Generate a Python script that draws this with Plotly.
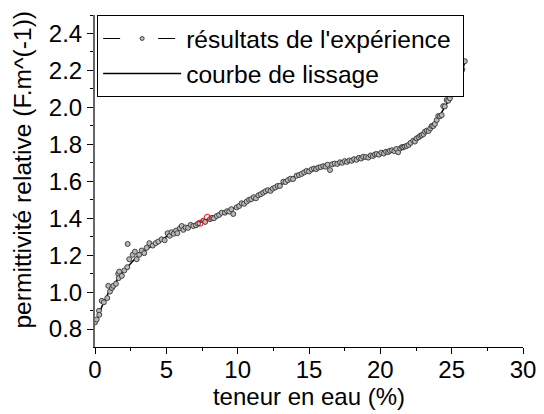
import plotly.graph_objects as go

# Experimental results (teneur en eau %, permittivité relative)
exp_x = [0.00, 0.12, 0.28, 0.30, 0.47, 0.62, 0.86, 0.93, 1.05, 1.19, 1.28, 1.47, 1.63, 1.66, 1.70, 1.88,
         2.05, 2.26, 2.29, 2.40, 2.64, 2.80, 2.92, 3.10, 3.27, 3.45, 3.62, 3.81, 4.05, 4.25, 4.44, 4.67,
         4.88, 5.09, 5.24, 5.37, 5.52, 5.68, 5.77, 5.95, 6.08, 6.19, 6.35, 6.52, 6.71, 6.89, 7.08, 7.22,
         7.59, 7.72, 8.06, 8.20, 8.34, 8.53, 8.70, 8.88, 9.11, 9.26, 9.41, 9.56, 9.69, 9.93,
         10.10, 10.28, 10.45, 10.63, 10.80, 10.95, 11.12, 11.28, 11.45, 11.62, 11.79, 11.95, 12.12, 12.30,
         12.46, 12.63, 12.80, 12.96, 13.20, 13.35, 13.52, 13.70, 13.88, 14.13, 14.30, 14.48, 14.66, 14.83,
         15.00, 15.18, 15.35, 15.50, 15.65, 15.82, 16.00, 16.15, 16.30, 16.47, 16.62, 16.80, 16.98, 17.17,
         17.33, 17.50, 17.66, 17.83, 17.99, 18.16, 18.33, 18.50, 18.66, 18.80, 18.98, 19.15, 19.32, 19.48,
         19.62, 19.74, 19.90, 20.07, 20.24, 20.40, 20.55, 20.67, 20.82, 20.98, 21.12, 21.25, 21.40, 21.52,
         21.60, 21.72, 21.84, 21.98, 22.12, 22.31, 22.42, 22.54, 22.68, 22.80, 22.90, 23.02, 23.13, 23.25,
         23.38, 23.50, 23.60, 23.71, 23.82, 23.95, 24.06, 24.18, 24.30, 24.41, 24.52, 24.65, 24.76, 24.88,
         25.00, 25.12, 25.23, 25.40, 25.58, 25.75, 25.92]
exp_y = [0.836, 0.852, 0.899, 0.877, 0.953, 0.945, 0.968, 1.034, 1.003, 1.022, 1.034, 1.045, 1.099, 1.076, 1.111, 1.088,
         1.117, 1.135, 1.261, 1.178, 1.202, 1.219, 1.178, 1.202, 1.225, 1.211, 1.240, 1.265, 1.252, 1.265, 1.274, 1.286,
         1.281, 1.319, 1.305, 1.324, 1.316, 1.333, 1.319, 1.346, 1.358, 1.337, 1.350, 1.348, 1.364, 1.358, 1.362, 1.371,
         1.387, 1.380, 1.395, 1.402, 1.400, 1.412, 1.418, 1.430, 1.430, 1.438, 1.436, 1.449, 1.423, 1.459,
         1.466, 1.481, 1.478, 1.490, 1.500, 1.503, 1.514, 1.508, 1.524, 1.530, 1.538, 1.546, 1.552, 1.548,
         1.560, 1.566, 1.575, 1.575, 1.598, 1.596, 1.606, 1.614, 1.612, 1.630, 1.634, 1.640, 1.648, 1.656,
         1.653, 1.664, 1.669, 1.666, 1.674, 1.677, 1.682, 1.679, 1.690, 1.661, 1.692, 1.696, 1.694, 1.703,
         1.700, 1.709, 1.705, 1.713, 1.711, 1.720, 1.716, 1.727, 1.723, 1.733, 1.731, 1.728, 1.740, 1.737,
         1.745, 1.748, 1.744, 1.755, 1.750, 1.760, 1.758, 1.765, 1.768, 1.763, 1.775, 1.757, 1.778, 1.785,
         1.784, 1.788, 1.791, 1.797, 1.808, 1.820, 1.815, 1.832, 1.838, 1.846, 1.850, 1.855, 1.868, 1.874,
         1.872, 1.886, 1.899, 1.899, 1.910, 1.931, 1.953, 1.952, 1.958, 2.007, 2.005, 2.040, 2.036, 2.049,
         2.070, 2.085, 2.094, 2.130, 2.165, 2.205, 2.250]

# Highlighted (red) measurements
red_x = [7.36, 7.87]
red_y = [1.373, 1.405]

# Smoothing curve
fit_x = [0, 0.25, 0.5, 0.75, 1.0, 1.25, 1.5, 1.75, 2.0, 2.5, 3.0, 3.5, 4.0, 4.5, 5.0, 5.5, 6.0, 6.5, 7.0,
         7.5, 8.0, 8.5, 9.0, 9.5, 10.0, 10.5, 11.0, 11.5, 12.0, 12.5, 13.0, 13.5, 14.0, 14.5, 15.0, 15.5,
         16.0, 16.5, 17.0, 17.5, 18.0, 18.5, 19.0, 19.5, 20.0, 20.5, 21.0, 21.5, 22.0, 22.5, 23.0, 23.5,
         24.0, 24.5, 25.0, 25.5, 26.0]
fit_y = [0.83, 0.87, 0.925, 0.965, 1.005, 1.035, 1.06, 1.085, 1.11, 1.155, 1.195, 1.225, 1.25, 1.275,
         1.30, 1.32, 1.34, 1.355, 1.368, 1.383, 1.398, 1.412, 1.428, 1.446, 1.465, 1.485, 1.505, 1.525,
         1.545, 1.562, 1.58, 1.605, 1.628, 1.645, 1.66, 1.672, 1.683, 1.692, 1.70, 1.707, 1.715, 1.725,
         1.733, 1.742, 1.752, 1.762, 1.772, 1.783, 1.80, 1.825, 1.858, 1.89, 1.935, 2.00, 2.065, 2.15, 2.26]

x_ticks = [0, 5, 10, 15, 20, 25, 30]
y_ticks = [0.8, 1.0, 1.2, 1.4, 1.6, 1.8, 2.0, 2.2, 2.4]

FONT = "Liberation Sans, Arial, Helvetica, sans-serif"
marker_style = dict(symbol="circle", size=5, color="#b8b8b8", line=dict(color="#333333", width=0.9))

fig = go.Figure()
fig.add_trace(go.Scatter(x=fit_x, y=fit_y, mode="lines", line=dict(color="black", width=1.5, shape="spline"),
                         showlegend=False, hoverinfo="skip"))
fig.add_trace(go.Scatter(x=exp_x, y=exp_y, mode="markers", marker=marker_style, showlegend=False))
fig.add_trace(go.Scatter(x=red_x, y=red_y, mode="markers",
                         marker=dict(symbol="circle-open", size=6, color="red", line=dict(color="red", width=1)),
                         showlegend=False))
# legend entries
fig.add_trace(go.Scatter(x=[None], y=[None], mode="lines+markers", name="résultats de l'expérience\u00a0",
                         line=dict(color="black", width=1, dash="17px,38px"),
                         marker=dict(symbol="circle", size=4, color="#b8b8b8", line=dict(color="#333333", width=0.9))))
fig.add_trace(go.Scatter(x=[None], y=[None], mode="lines", name="courbe de lissage",
                         line=dict(color="black", width=1.5)))

fig.update_layout(
    width=536, height=406,
    margin=dict(l=87, r=21, t=7, b=67),
    paper_bgcolor="white", plot_bgcolor="white",
    font=dict(family=FONT, size=24, color="black"),
    legend=dict(x=0.005, y=1.0, xanchor="left", yanchor="top", bgcolor="white",
                bordercolor="black", borderwidth=1, font=dict(size=24.6), tracegroupgap=0,
                itemwidth=78),
    xaxis=dict(range=[0, 30], tickvals=x_ticks, ticks="outside", ticklen=6, tickcolor="black",
               showline=True, linecolor="black", linewidth=1, showgrid=False, zeroline=False,
               automargin=False, ticklabelstandoff=-5,
               minor=dict(dtick=2.5, tick0=0, ticks="outside", ticklen=3, tickcolor="black"),
               title=dict(text="teneur en eau (%)", standoff=2, font=dict(size=24)),
               tickfont=dict(size=24)),
    yaxis=dict(range=[0.703, 2.5], tickvals=y_ticks, tickformat=".1f", ticks="outside", ticklen=6,
               tickcolor="black", showline=True, linecolor="#666666", linewidth=2, showgrid=False,
               zeroline=False, automargin=False,
               minor=dict(dtick=0.1, tick0=0, ticks="outside", ticklen=3, tickcolor="black"),
               tickfont=dict(size=24)),
    annotations=[dict(text="permittivité relative (F.m^(-1))", textangle=-90,
                      xref="paper", yref="paper", x=-0.17, y=0.535,
                      xanchor="center", yanchor="middle", showarrow=False,
                      font=dict(size=24.6))],
)

fig.write_html("out.html")
